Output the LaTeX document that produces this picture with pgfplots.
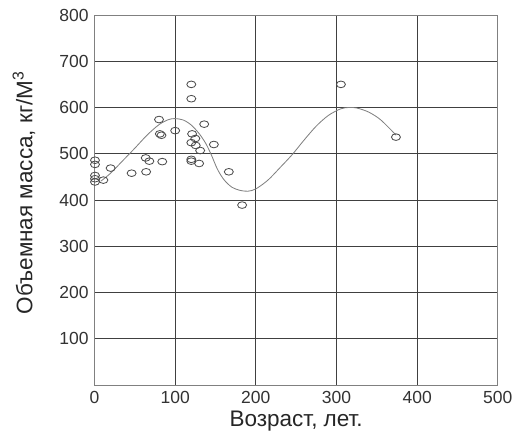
\documentclass[border=0pt]{standalone}
\usepackage{fontspec}
\setmainfont{Liberation Sans}
\usepackage{pgfplots}
\pgfplotsset{compat=1.18}
\begin{document}
\begin{tikzpicture}
\begin{axis}[
  name=ax, at={(0,0)}, anchor=south west,
  scale only axis, width=242pt, height=222pt,
  xmin=0, xmax=500, ymin=0, ymax=800,
  xtick={0,100,...,500}, ytick={100,200,...,800},
  grid=major,
  major grid style={draw=black!75, line width=0.6pt},
  axis line style={draw=black!50, line width=0.6pt},
  major tick length=0pt,
  clip mode=individual,
  /pgf/number format/assume math mode=true,
  tick label style={font=\fontsize{10.5}{12}\selectfont, text=black!80},
  xlabel={Возраст, лет.},
  ylabel={Объемная масса, кг/М\textsuperscript{3}},
  label style={font=\fontsize{13.5}{15}\selectfont, text=black!85},
  xlabel style={at={(axis description cs:0.5,-0.097)}, anchor=center},
  ylabel style={at={(axis description cs:-0.175,0.52)}, anchor=center},
]
\addplot[smooth, draw=black!50, line width=0.5pt] coordinates {
  (8,441) (20,458) (35,485) (50,512) (65,540) (80,563) (92,574) (100,576)
  (110,573) (120,562) (130,543) (138,522) (145,497) (152,468) (160,445)
  (170,428) (180,421) (190,419) (200,424) (215,443) (230,470) (245,498)
  (260,530) (275,560) (290,583) (305,597) (315,600) (325,599) (340,590)
  (355,573) (374,540)
};
\addplot[only marks, mark=o, mark size=2pt, mark options={xscale=1.35, draw=black!70, fill=white, line width=0.5pt}] coordinates {
  (0.6,486) (0.6,477) (0.6,453) (0.6,446) (0.6,439) (11,443) (20,469)
  (46,458) (63.5,491) (64,461) (68,484) (80,574) (81,543) (83,540) (84,483)
  (100,550) (120,650) (120,619) (121,543) (125,533) (120,524) (125.5,518)
  (131,507) (136,564) (148,520) (120,488) (120,484) (129.7,479) (166.5,461)
  (183,389) (305.5,650) (373.7,536)
};
\end{axis}
\pgfresetboundingbox
\path[use as bounding box] (-56.7pt,-29.4pt) rectangle (250.5pt,231pt);
\end{tikzpicture}
\end{document}
